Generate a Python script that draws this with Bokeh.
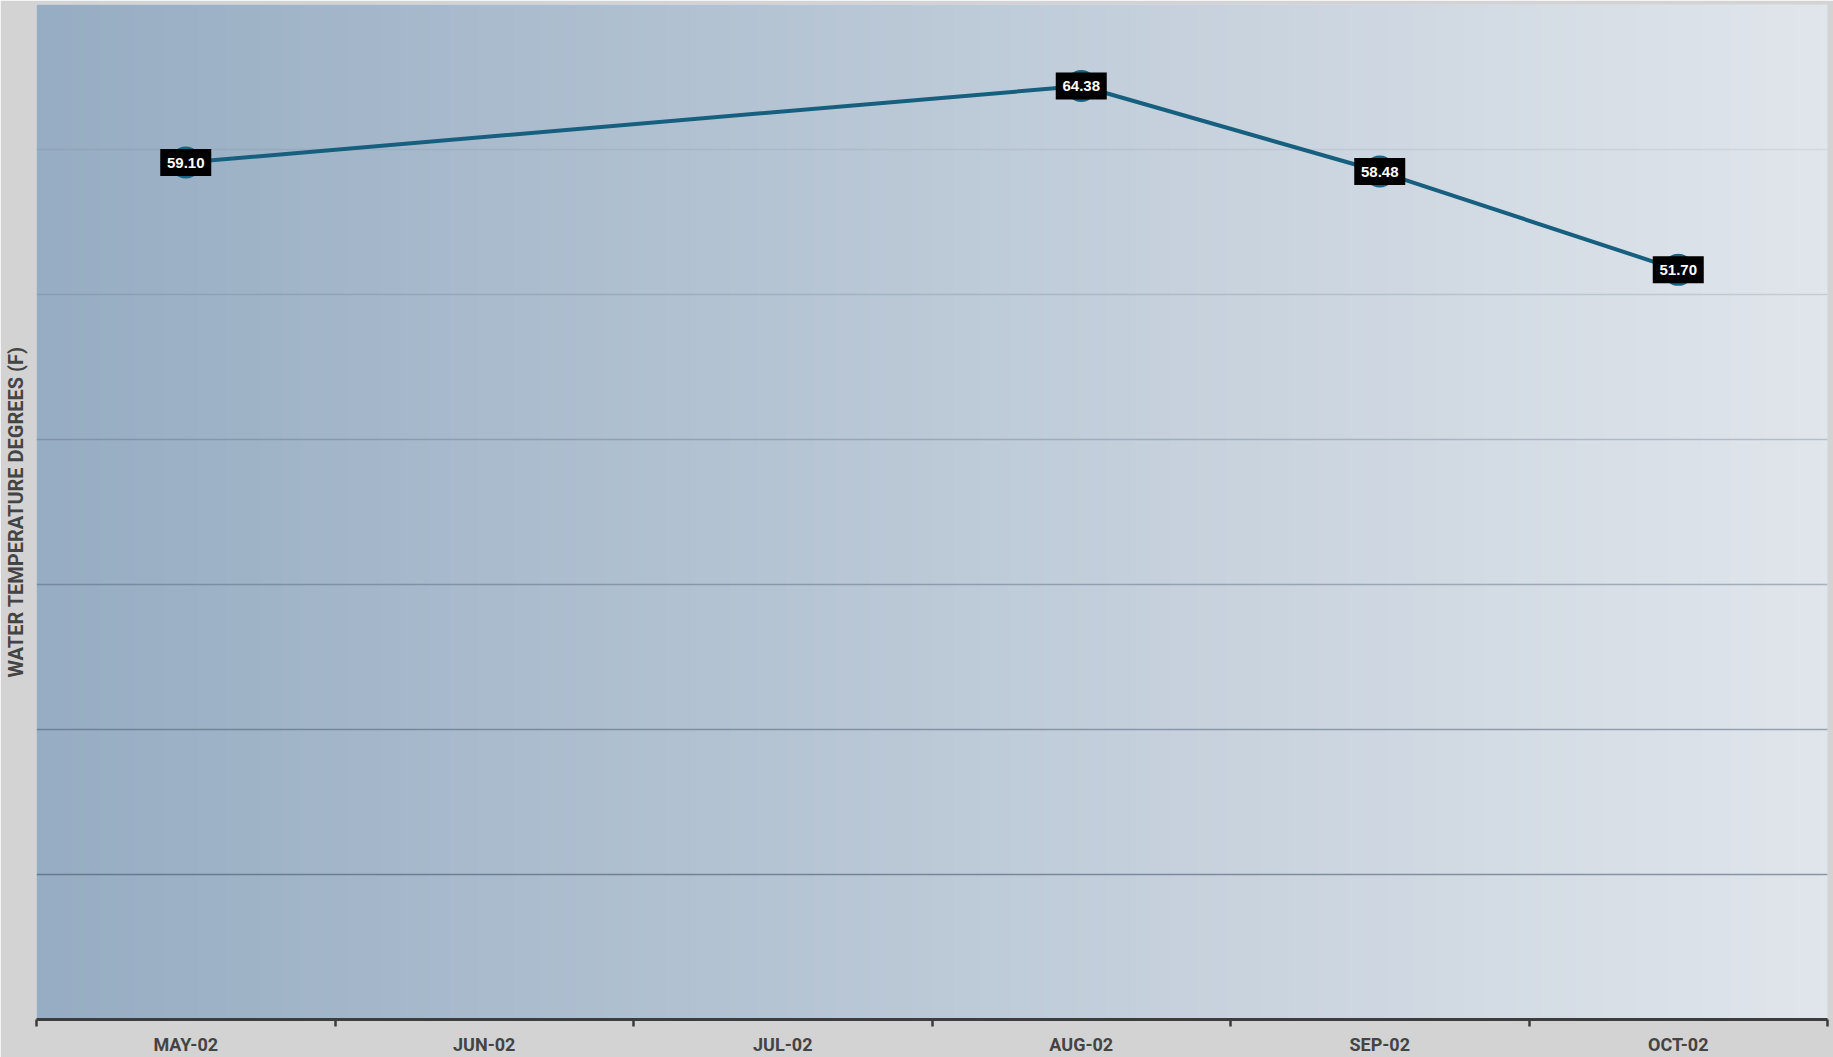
import numpy as np
from bokeh.plotting import figure
from bokeh.models import FixedTicker, Span, ColumnDataSource
from bokeh.core.properties import value
from bokeh.embed import file_html
from bokeh.resources import INLINE

# ---- data ----
months = ["MAY-02", "JUN-02", "JUL-02", "AUG-02", "SEP-02", "OCT-02"]
measured_months = ["MAY-02", "AUG-02", "SEP-02", "OCT-02"]
temps = [59.10, 64.38, 58.48, 51.70]
y_ticks = [0, 10, 20, 30, 40, 50, 60, 70]
y_title = "WATER TEMPERATURE DEGREES (F)"

x_pos = [months.index(m) + 0.5 for m in measured_months]
src = ColumnDataSource(dict(x=x_pos, y=temps, lab=["%.2f" % t for t in temps]))

ymin, ymax = y_ticks[0], y_ticks[-1]
p = figure(width=1833, height=1057, output_backend="svg", toolbar_location=None,
           x_range=(0, len(months)), y_range=(ymin, ymax),
           min_border_left=0, min_border_right=6, min_border_top=4, min_border_bottom=0)
p.border_fill_color = "#d3d3d3"
p.outline_line_color = None
p.background_fill_color = "#c0ccd7"

# background horizontal gradient
N = 256
c0 = np.array([0x97, 0xad, 0xc3], dtype=float)
c1 = np.array([0xe1, 0xe6, 0xec], dtype=float)
t = np.linspace(0, 1, N)[:, None]
cols = (c0 * (1 - t) + c1 * t).astype(np.uint32)
img = np.empty((1, N), dtype=np.uint32)
view = img.view(dtype=np.uint8).reshape((1, N, 4))
view[0, :, 0] = cols[:, 0]
view[0, :, 1] = cols[:, 1]
view[0, :, 2] = cols[:, 2]
view[0, :, 3] = 255
p.image_rgba(image=[img], x=0, y=ymin, dw=len(months), dh=ymax - ymin)

# grid lines (darker toward bottom)
p.xgrid.visible = False
p.ygrid.visible = False
for v in y_ticks[1:-1]:
    a = 0.08 + (60 - v) / 50 * 0.42
    p.add_layout(Span(location=v, dimension="width", line_color="#34465a",
                      line_alpha=a, line_width=1.6))

# line + markers
p.line("x", "y", source=src, line_color="#175f7f", line_width=4)
p.scatter("x", "y", source=src, size=32, fill_color="#1a6483", line_color=None)
p.rect("x", "y", source=src, width=51, height=27, width_units="screen",
       height_units="screen", fill_color="black", line_color=None)
p.text("x", "y", text="lab", source=src, text_color="white",
       text_font=value("Liberation Sans"), text_font_style="bold",
       text_font_size="15px", text_align="center", text_baseline="middle")

# x axis
xa = p.xaxis[0]
xa.ticker = FixedTicker(ticks=[i + 0.5 for i in range(len(months))],
                        minor_ticks=list(range(len(months) + 1)))
xa.major_label_overrides = {i + 0.5: m for i, m in enumerate(months)}
xa.major_tick_out = 0
xa.major_tick_in = 0
xa.minor_tick_out = 7
xa.minor_tick_in = 0
xa.minor_tick_line_color = "#3d3d3d"
xa.minor_tick_line_width = 2.5
xa.axis_line_color = "#3d3d3d"
xa.axis_line_width = 3
xa.major_label_text_font = "Roboto"
xa.major_label_text_font_style = "bold"
xa.major_label_text_font_size = "18px"
xa.major_label_text_color = "#444444"
xa.major_label_standoff = 7

# y axis (title only)
ya = p.yaxis[0]
ya.ticker = FixedTicker(ticks=[])
ya.major_tick_out = 0
ya.major_tick_in = 0
ya.minor_tick_out = 0
ya.minor_tick_in = 0
ya.axis_line_color = None
ya.major_label_standoff = 0
ya.axis_label = y_title
ya.axis_label_text_font = "Roboto"
ya.axis_label_text_font_style = "bold"
ya.axis_label_text_font_size = "20px"
ya.axis_label_text_color = "#444444"
ya.axis_label_standoff = 9

open("out.html", "w").write(file_html(p, INLINE))
